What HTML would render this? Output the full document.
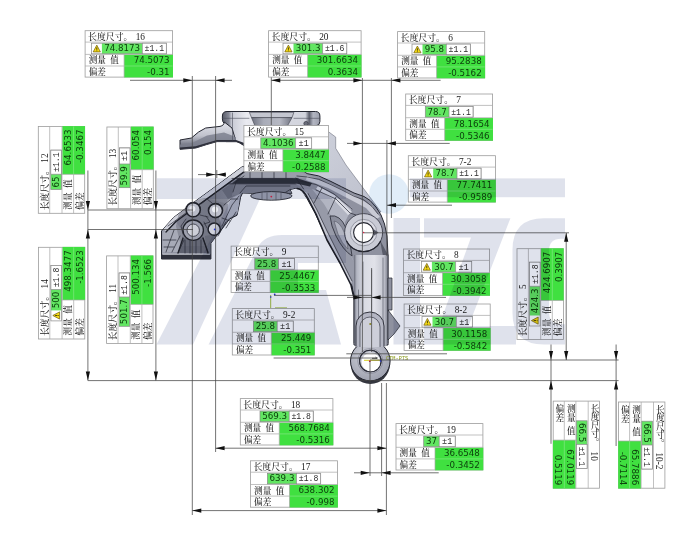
<!DOCTYPE html>
<html lang="zh-CN">
<head>
<meta charset="utf-8">
<title>长度尺寸 测量报告</title>
<style>
html,body{margin:0;padding:0;background:#fff}
body{width:700px;height:537px;overflow:hidden}
svg{display:block;will-change:transform;filter:blur(.3px)}
.lb{fill:#fff;stroke:#9c9c9c;stroke-width:.8}
.ln{fill:none;stroke:#a6a6a6;stroke-width:.7}
.lg{fill:none;stroke:#8fe88f;stroke-width:.6}
.gv{fill:#40e040}
.gn{fill:#62e662}
.ib{fill:none;stroke:#8a8a8a;stroke-width:.7}
.tb{fill:#fff;stroke:#8a8a8a;stroke-width:.7}
.wt{fill:#f7dc12;stroke:#6b5a10;stroke-width:.7;stroke-linejoin:round}
.we{fill:none;stroke:#3a3208;stroke-width:.9}
.cj{font-family:"Liberation Serif","Noto Serif CJK SC",serif;font-size:8.6px;font-weight:500;fill:#202020}
.vt{writing-mode:vertical-rl}
.ct{font-size:8.9px}
.tn{font-family:"Liberation Serif",serif;font-size:9.3px;font-weight:400}
.ng{font-family:"DejaVu Sans","Liberation Sans",sans-serif;font-size:8.7px;fill:#0d420d}
.tl{font-family:"Liberation Mono","DejaVu Sans Mono",monospace;font-size:9.6px;fill:#2a2a2a}
.dl{fill:none;stroke:#444;stroke-width:.75}
.ar{fill:#111;stroke:none}

.po{stroke:#23252f;stroke-width:1;stroke-linejoin:round}
.pl{fill:none;stroke:#262833;stroke-width:.7;stroke-linecap:round;stroke-linejoin:round}
.pm{fill:none;stroke:#4a4d5b;stroke-width:.6;stroke-linecap:round;stroke-linejoin:round}
.pk{fill:none;stroke:#1d1f28;stroke-width:1.3;stroke-linecap:round;stroke-linejoin:round}
.ph{fill:none;stroke:#eef0f5;stroke-width:1;stroke-linecap:round}

.wm{fill:#bfc5d9;fill-opacity:.5}
.wd{fill:#c3dbf1;fill-opacity:.5}
</style>
</head>
<body>
<svg width="700" height="537" viewBox="0 0 700 537">
<defs>
<filter id="b1" x="-5%" y="-5%" width="110%" height="110%"><feGaussianBlur stdDeviation=".7"/></filter>
<filter id="b0" x="-5%" y="-5%" width="110%" height="110%"><feGaussianBlur stdDeviation=".35"/></filter>
<linearGradient id="gWeb" x1="0" y1="0" x2="1" y2="1"><stop offset="0" stop-color="#d0d3dd"/><stop offset="1" stop-color="#bcbfcc"/></linearGradient>
<linearGradient id="gFl" gradientUnits="userSpaceOnUse" x1="222" y1="0" x2="320" y2="0"><stop offset="0" stop-color="#565966"/><stop offset=".07" stop-color="#878a97"/><stop offset=".1" stop-color="#c9cbd5"/><stop offset=".25" stop-color="#e9eaf0"/><stop offset=".5" stop-color="#d8d9e1"/><stop offset=".85" stop-color="#d2d4dd"/><stop offset=".89" stop-color="#5d606d"/><stop offset=".93" stop-color="#b3b6c2"/><stop offset="1" stop-color="#9b9eab"/></linearGradient>
<linearGradient id="gArm" x1="0" y1="0" x2="0" y2="1"><stop offset="0" stop-color="#e3e4eb"/><stop offset=".5" stop-color="#c1c3cd"/><stop offset=".75" stop-color="#8b8e9b"/><stop offset="1" stop-color="#4d505d"/></linearGradient>
<linearGradient id="gCone" x1="0" y1="0" x2="1" y2="0"><stop offset="0" stop-color="#6f7280"/><stop offset=".3" stop-color="#a9acb8"/><stop offset=".7" stop-color="#b6b8c3"/><stop offset="1" stop-color="#747784"/></linearGradient>
<linearGradient id="gLeg" gradientUnits="userSpaceOnUse" x1="354" y1="0" x2="388" y2="0"><stop offset="0" stop-color="#6b6e7b"/><stop offset=".08" stop-color="#b3b6c2"/><stop offset=".3" stop-color="#d9dbe3"/><stop offset=".6" stop-color="#e1e2e9"/><stop offset=".88" stop-color="#c3c5cf"/><stop offset="1" stop-color="#7a7d8a"/></linearGradient>
<radialGradient id="gRing" cx=".42" cy=".35" r=".7"><stop offset="0" stop-color="#d0d2db"/><stop offset="1" stop-color="#9b9eac"/></radialGradient>
<linearGradient id="gBr" gradientUnits="userSpaceOnUse" x1="161" y1="0" x2="243" y2="0"><stop offset="0" stop-color="#9c9fad"/><stop offset=".3" stop-color="#868998"/><stop offset=".6" stop-color="#7a7d8b"/><stop offset="1" stop-color="#8f92a0"/></linearGradient>
<clipPath id="cA"><path d="M161.5 259V231L163.4 228.8L173.6 217.5L192.2 203.5L216.5 185.8L242.5 166.5H296.9L307.1 173.6L318.6 175.9L330 181L341.4 186.7L354 193L364 196.5L370 200.4L376 207L381 215L384.5 224L387 236L388 255V345H354V296L352 286L340.5 264L328 241L321 226L315 213L307 198.5L301.5 190L296.9 187.9L290 189.6L292 193.3H252.4L242.5 193Q240 197 239.7 202.2L237 215.3L229.5 219L223.9 226.5L216.5 235.8L210.9 243.2V259Z"/></clipPath>
</defs>
<g id="part">

<path d="M300 126H322L328.3 131.6L335.7 137.1V148.3L346 165L381 212L366 215L300 176Z" fill="url(#gWeb)" stroke="#6f7280" stroke-width=".6"/>
<!-- flange + arm -->
<path class="po" fill="url(#gFl)" d="M222.4 116Q222.4 111.5 227 111.5H315.5Q319.9 111.5 319.9 116V121.5Q319.9 125.6 316 125.8L300 126V146H244.3Q240 141.6 236 141.6H226L224.3 123.6Q222.4 122 222.4 119Z"/>
<path class="po" fill="url(#gArm)" d="M180 140L191.4 138Q198.6 131 205.7 128L220 126.4Q224.3 125.4 224.3 122L232 128L236 141.6H217Q207 144.3 195.7 148L180 149.3Z"/>
<path d="M180 144.5L192 143Q200 139 207 135.5L224 132.5L236 137V141.6H217Q207 144.3 195.7 148L180 149.3Z" fill="#7e818f" opacity=".85"/>
<path d="M180 147.6L195.7 146.3Q207 142.8 217 140H236L244.3 143V146L236 141.6H217Q207 144.3 195.7 148L180 149.3Z" fill="#2d2f3a"/>
<path d="M249.4 112.3H293.9L292 117.6H251.5Z" fill="#c4c6d0" stroke="#3a3c48" stroke-width=".6"/>
<path d="M251.5 117.6H292L287.4 126H255Z" fill="url(#gCone)" stroke="#3a3c48" stroke-width=".6"/>
<path class="pm" d="M222.6 118.3H249M294 118.3H319.8M300 126V145M232.5 113V140"/>
<circle cx="306" cy="123.6" r="2.2" fill="#6a6d7a" stroke="#2b2d39" stroke-width=".6"/>
<!-- arch body silhouette -->
<path class="po" fill="url(#gBr)" d="M161.5 259V231L163.4 228.8L173.6 217.5L192.2 203.5L216.5 185.8L242.5 166.5H296.9L307.1 173.6L318.6 175.9L330 181L341.4 186.7L354 193L364 196.5L370 200.4L376 207L381 215L384.5 224L387 236L388 255V345H354V296L352 286L340.5 264L328 241L321 226L315 213L307 198.5L301.5 190L296.9 187.9L290 189.6L292 193.3H252.4L242.5 193Q240 197 239.7 202.2L237 215.3L229.5 219L223.9 226.5L216.5 235.8L210.9 243.2V259Z"/>
<g clip-path="url(#cA)"><g filter="url(#b0)">
<!-- bracket tones -->
<path d="M163.4 228.8L173.6 217.5L192.2 203.5L216.5 185.8L242.5 166.5L246 170L219 189.5L195 207L176 221L166 232Z" fill="#cfd1da"/>
<path d="M163 233L176 222L183 232L180 252H163Z" fill="#a7aab7"/>
<path d="M228 200L240 194L238 213L229 218L222 226L218 216Z" fill="#b4b7c4"/>
<path d="M222 190L244 174L290 172L296 186L290 189.6L252 192L240 193L228 199Z" fill="#6d707e"/>
<path d="M183 238L203 238L208 253H178Z" fill="#5f6270"/>
<path d="M181 203L205 198L228 204L226 236L206 246H181L176 226Z" fill="#6b6e7c" opacity=".5"/>
<path d="M205 236L226 232L222 246L211 254H206Z" fill="#5d606d" opacity=".55"/>
<!-- top band -->
<path d="M243 172H300L330 183L326 186L298 178H240Z" fill="#9b9eab"/>
<path d="M238 178.5H298L312 183L310 186.5L296 183.5H232Z" fill="#2f313d"/>
<path d="M234 184H296L304 189L296 187.9L290 189.6L292 193.3H252.4L242.5 193L232 196Z" fill="#7f8290"/>
<!-- right arm tones -->
<path d="M303.7 189L310.6 198.1L318.6 214.1L330 240L343 262L353 284L354 294V262L345 240L338 222L326 204L315 190Z" fill="#979aa8"/>
<path d="M312 189L330 195L352 208L345 222L344 240L352 258L354 262L345 240L336 224L324 204Z" fill="#b2b5c2"/>
<path d="M307 176L330 183.5L354 195.5L372 206L380 217L376 219L366 208L350 199.5L328 188L306 180Z" fill="#c9cbd5"/>
<path d="M318 186L336 196L352 212L348 215L333 199L316 189Z" fill="#d9dbe3"/>
<path d="M380 240L388 255V300H384V262Z" fill="#5a5d6a"/>
</g></g>
<!-- leaf pocket -->
<path d="M330 216Q340 214 346 228Q351 244 352 256Q343 250 336 236Q331 226 330 216Z" fill="#8b8e9c" stroke="#262833" stroke-width=".8"/>
<path d="M334 221Q340 222 344 232Q347 242 348 249Q342 244 338 234Z" fill="#b1b4c1" stroke="#4a4d5b" stroke-width=".5"/>
<!-- arm lines -->
<path class="pl" d="M296.9 176L307.1 177L318.6 179.3L330 184.2L341.4 189.7L354 196.2L364 200L372 206.5L378 214M300 181L316 184.5L334 194L352 209M316 190L336 199L350 213L356 215M322 188L314 203M336 197L328 214M303.7 189L296 178M290 189.6L284 193.3"/>
<path d="M299 188.6L308 198.5L316 214L327 240L340 263L351 285L352 281L340 257L327 231L317 210L308 193.5Z" fill="#c3c5d0"/>
<path class="pl" style="stroke-width:1.6;stroke:#1d1f28" d="M297 188.5Q303 189 308 198.5L316 214L327 240L340 263L351 285L353.5 296"/>
<path class="pl" d="M308 193.5L317 210L327 231L340 257L352 281"/>
<!-- top band lines -->
<path class="pl" d="M232 178.4H298M228 183.8H296M250 172V178M262 172V178M274 172V178M286 172V178M240 193L246 186H290"/>
<!-- bottom ring -->
<circle cx="370.3" cy="364.3" r="19.6" fill="#34363f"/>
<circle cx="370.3" cy="361" r="19.8" fill="url(#gRing)" stroke="#23252f" stroke-width="1"/>
<circle cx="370.3" cy="361" r="12.6" fill="none" stroke="#7d808e" stroke-width=".6"/>
<circle cx="370.3" cy="361" r="10.7" fill="#fff" stroke="#2b2d39" stroke-width="1.1"/>
<!-- leg -->
<path d="M354 255H388V343L385.5 346.5H355.5L354 343Z" fill="url(#gLeg)"/>
<path class="pl" d="M354 294V343M388 255V343"/>
<path class="pm" d="M363 262V340M371.6 270V322M383 258V340M358.5 290V340"/>
<path d="M388 278H392V310H388ZM388 310L400 326L394 334L388 340Z" fill="#8f92a0" stroke="#23252f" stroke-width=".7"/>
<path d="M356 346.5V326A14 14 0 0 1 384 326V346.5" fill="#b4b6c3" stroke="#23252f" stroke-width=".9"/>
<path d="M360 347V327A10 10 0 0 1 380 327V347" fill="#cdcfd9" stroke="#3a3c48" stroke-width=".7"/>
<circle cx="370.3" cy="324" r="1.1" fill="#8a8a2a"/>
<!-- upper ring boss -->
<circle cx="363.6" cy="232.6" r="19" fill="#c9cbd5" stroke="#3a3c48" stroke-width=".9"/>
<path d="M346.5 241A19 19 0 0 0 380.7 241" fill="none" stroke="#23252f" stroke-width="1.3"/>
<circle cx="363.6" cy="232.6" r="13.2" fill="#dcdde5" stroke="#6a6d7a" stroke-width=".6"/>
<circle cx="363.6" cy="232.6" r="10" fill="#fff" stroke="#23252f" stroke-width="1.1"/>
<path d="M374 229.5L378.5 232.6L374 235.7Z" fill="#555866"/>
<!-- bracket -->
<path d="M161.5 254.4H210.9V259H161.5Z" fill="#30323d"/>
<path class="ph" d="M163 254.2H209.5" opacity=".7"/>
<path class="pl" d="M166 252L174 230M172 252L180 236M178 253L184 240M208 252L203 238M168 226L190 210M246 171L219 190.5L202 203M206 216L210 222L204 224M222 226L232 205L239 196M226 228L236 212M218 236L226 222"/>
<path class="pk" d="M183 238L178 253M203 238L208 253M166 232L176 221.5L195 207.5L219 190L245 171"/>
<path class="pl" d="M185 240V253M190 241V253M196 241V253M201 240V253M200 215L208 217M201 204L207 199L212 203M186 219L181 226L183 234M204 222L207 228M222 218L230 221M224 205L231 199L238 199M244 176L236 182L233 192M163 240H176M164 247H174"/>
<circle cx="193.2" cy="230.2" r="10.2" fill="#9ea1af" stroke="#20222b" stroke-width="1.3"/>
<circle cx="193.2" cy="230.2" r="6.2" fill="#cdcfd8" stroke="#3a3c48" stroke-width=".9"/>
<circle cx="193.2" cy="209.7" r="7.1" fill="#babdc9" stroke="#20222b" stroke-width="1.6"/>
<circle cx="192.4" cy="208.8" r="3" fill="#e6e7ee" filter="url(#b1)"/>
<circle cx="215.5" cy="210.6" r="7" fill="#bfc1cc" stroke="#20222b" stroke-width="1.6"/>
<circle cx="215" cy="209.6" r="3" fill="#eceef3" filter="url(#b1)"/>
<circle cx="214.2" cy="229.2" r="6.1" fill="#cfd1db" stroke="#20222b" stroke-width="1.5"/>
<circle cx="214.7" cy="229.4" r=".9" fill="#2233dd"/>
<ellipse cx="271.3" cy="195.9" rx="20.6" ry="4.3" fill="#a3a6b3" stroke="#23252f" stroke-width=".9"/>
<path class="pm" d="M262 193V199.5M267 193V200M276 193V200M281 193V199.5"/>
<circle cx="271.3" cy="196.6" r=".9" fill="#dd2244"/>
<circle cx="363.6" cy="232.6" r=".8" fill="#dd2244"/>
<circle cx="370.3" cy="361" r="10.7" fill="#c6c8d2" stroke="#2b2d39" stroke-width="1.1"/>
<circle cx="370.9" cy="362" r="9.3" fill="#fff"/>
<path d="M364 360.3H380" stroke="#d8d020" stroke-width="1" fill="none"/>
<path d="M372 358.3H377L375.5 357.2" stroke="#222" stroke-width=".8" fill="none"/>
<circle cx="369.8" cy="361.2" r=".9" fill="#cc2244"/><circle cx="380.6" cy="360.8" r=".9" fill="#2233cc"/>
<text x="386" y="360.2" style="font-family:'Liberation Mono',monospace;font-size:5.3px;fill:#8a9a1a">CTM-PTS</text>
<path d="M270.7 295V308M275 307.9H287" stroke="#9aba30" stroke-width=".9" fill="none"/>
<circle cx="274.7" cy="294.3" r=".9" fill="#2233cc"/><circle cx="270.7" cy="297" r=".8" fill="#2233cc"/>

</g>
<g id="dims">
<path class="dl" d="M192.3 76V515M215.6 76V452M271.3 77V125M362.4 78V352M391.4 78V218M386.9 140V256M371.6 268V352M370.0 361V476M381.6 383V476M386.4 383V515M87.9 170.5V380.5M155.9 170.5V380.5M566.2 233V360M551.0 344.5V443.8M616.1 344.5V446M216.8 170V178M130 80.3H232M271.3 80.3H440.6M347 143.4H449.7M387 205.2H452M198 174.6H226M87.9 210.0H193M87.9 229.5H193M364 232.8H569M370 360.0H618.6M87.9 380.6H618.6M274 295.4H372M347 297.4H446M346.3 353.8H447M273.6 358.0H378M215.6 448.2H386.4M354 472.8H438.7M192.3 510.6H386.4"/>
<path class="ar" d="M192.3 80.3L183.3 78.2V82.39999999999999ZM215.6 80.3L224.6 78.2V82.39999999999999ZM271.3 80.3L280.3 78.2V82.39999999999999ZM362.4 80.3L353.4 78.2V82.39999999999999ZM391.4 80.3L400.4 78.2V82.39999999999999ZM362.4 143.4L353.4 141.3V145.5ZM386.9 143.4L395.9 141.3V145.5ZM387.0 205.2L396.0 203.1V207.29999999999998ZM215.2 174.6L206.2 172.5V176.7ZM216.8 174.6L225.8 172.5V176.7ZM87.9 210.0L85.80000000000001 201.0H90.0ZM87.9 229.5L85.80000000000001 238.5H90.0ZM87.9 380.6L85.80000000000001 371.6H90.0ZM155.9 210.0L153.8 201.0H158.0ZM155.9 229.5L153.8 238.5H158.0ZM155.9 380.6L153.8 371.6H158.0ZM566.2 232.8L564.1 241.8H568.3000000000001ZM566.2 360.0L564.1 351.0H568.3000000000001ZM551.0 360.0L548.9 351.0H553.1ZM616.1 360.0L614.0 351.0H618.2ZM551.0 380.6L548.9 389.6H553.1ZM616.1 380.6L614.0 389.6H618.2ZM362.4 297.4L353.4 295.29999999999995V299.5ZM371.6 297.4L380.6 295.29999999999995V299.5ZM215.6 448.2L224.6 446.09999999999997V450.3ZM386.4 448.2L377.4 446.09999999999997V450.3ZM369.7 472.8L360.7 470.7V474.90000000000003ZM381.6 472.8L390.6 470.7V474.90000000000003ZM192.3 510.6L201.3 508.5V512.7ZM386.4 510.6L377.4 508.5V512.7Z"/>
</g>
<g id="labels">
<g transform="translate(85.1 30.7) rotate(0)">
<rect class="lb" x="0" y="0" width="87.5" height="46.4"/>
<rect class="gv" x="39.0" y="24.0" width="48.9" height="22.7"/>
<path class="ln" d="M0 11.4H87.5M0 23.7H87.5M0 35.3H39.0M39.0 23.7V46.4"/>
<path class="lg" d="M39.0 35.3H87.5"/>
<rect class="gn" x="16.8" y="12.5" width="40.4" height="10.6"/>
<rect class="ib" x="6.3" y="12.5" width="74.9" height="10.6"/>
<rect class="tb" x="57.2" y="12.5" width="24.0" height="10.6"/>
<path class="wt" d="M11.7 14.4L15.3 21.2H8.1Z"/>
<path class="we" d="M11.7 16.7V19.1M11.7 19.8V20.5"/>
<text class="cj ct" x="3" y="9.3">长度尺寸。<tspan class="tn" x="50.6">16</tspan></text>
<text class="cj" x="3.6" y="32.8">测量<tspan x="25.2">值</tspan></text>
<text class="cj" x="3.6" y="44.4">偏差</text>
<text class="ng" x="37.0" y="20.6" text-anchor="middle">74.8173</text>
<text class="tl" x="59.4" y="20.6" textLength="19.6" lengthAdjust="spacingAndGlyphs">±1.1</text>
<text class="ng" x="84.5" y="32.6" text-anchor="end">74.5073</text>
<text class="ng" x="84.5" y="44.6" text-anchor="end">-0.31</text>
</g>
<g transform="translate(268.6 30.7) rotate(0)">
<rect class="lb" x="0" y="0" width="92.5" height="46.4"/>
<rect class="gv" x="39.0" y="24.0" width="53.9" height="22.7"/>
<path class="ln" d="M0 11.4H92.5M0 23.7H92.5M0 35.3H39.0M39.0 23.7V46.4"/>
<path class="lg" d="M39.0 35.3H92.5"/>
<rect class="gn" x="24.9" y="12.5" width="29.3" height="10.6"/>
<rect class="ib" x="14.4" y="12.5" width="63.8" height="10.6"/>
<rect class="tb" x="54.1" y="12.5" width="24.0" height="10.6"/>
<path class="wt" d="M19.8 14.4L23.4 21.2H16.2Z"/>
<path class="we" d="M19.8 16.7V19.1M19.8 19.8V20.5"/>
<text class="cj ct" x="3" y="9.3">长度尺寸。<tspan class="tn" x="50.6">20</tspan></text>
<text class="cj" x="3.6" y="32.8">测量<tspan x="25.2">值</tspan></text>
<text class="cj" x="3.6" y="44.4">偏差</text>
<text class="ng" x="39.5" y="20.6" text-anchor="middle">301.3</text>
<text class="tl" x="56.3" y="20.6" textLength="19.6" lengthAdjust="spacingAndGlyphs">±1.6</text>
<text class="ng" x="89.5" y="32.6" text-anchor="end">301.6634</text>
<text class="ng" x="89.5" y="44.6" text-anchor="end">0.3634</text>
</g>
<g transform="translate(397.6 31.6) rotate(0)">
<rect class="lb" x="0" y="0" width="87.1" height="46.4"/>
<rect class="gv" x="39.0" y="24.0" width="48.5" height="22.7"/>
<path class="ln" d="M0 11.4H87.1M0 23.7H87.1M0 35.3H39.0M39.0 23.7V46.4"/>
<path class="lg" d="M39.0 35.3H87.1"/>
<rect class="gn" x="24.9" y="12.5" width="23.8" height="10.6"/>
<rect class="ib" x="14.4" y="12.5" width="58.3" height="10.6"/>
<rect class="tb" x="48.7" y="12.5" width="24.0" height="10.6"/>
<path class="wt" d="M19.8 14.4L23.4 21.2H16.2Z"/>
<path class="we" d="M19.8 16.7V19.1M19.8 19.8V20.5"/>
<text class="cj ct" x="3" y="9.3">长度尺寸。<tspan class="tn" x="50.6">6</tspan></text>
<text class="cj" x="3.6" y="32.8">测量<tspan x="25.2">值</tspan></text>
<text class="cj" x="3.6" y="44.4">偏差</text>
<text class="ng" x="36.8" y="20.6" text-anchor="middle">95.8</text>
<text class="tl" x="50.9" y="20.6" textLength="19.6" lengthAdjust="spacingAndGlyphs">±1.1</text>
<text class="ng" x="84.1" y="32.6" text-anchor="end">95.2838</text>
<text class="ng" x="84.1" y="44.6" text-anchor="end">-0.5162</text>
</g>
<g transform="translate(405.7 94.0) rotate(0)">
<rect class="lb" x="0" y="0" width="86.9" height="46.4"/>
<rect class="gv" x="39.0" y="24.0" width="48.3" height="22.7"/>
<path class="ln" d="M0 11.4H86.9M0 23.7H86.9M0 35.3H39.0M39.0 23.7V46.4"/>
<path class="lg" d="M39.0 35.3H86.9"/>
<rect class="gn" x="19.6" y="12.5" width="23.8" height="10.6"/>
<rect class="ib" x="19.6" y="12.5" width="47.8" height="10.6"/>
<rect class="tb" x="43.3" y="12.5" width="24.0" height="10.6"/>
<text class="cj ct" x="3" y="9.3">长度尺寸。<tspan class="tn" x="50.6">7</tspan></text>
<text class="cj" x="3.6" y="32.8">测量<tspan x="25.2">值</tspan></text>
<text class="cj" x="3.6" y="44.4">偏差</text>
<text class="ng" x="31.5" y="20.6" text-anchor="middle">78.7</text>
<text class="tl" x="45.5" y="20.6" textLength="19.6" lengthAdjust="spacingAndGlyphs">±1.1</text>
<text class="ng" x="83.9" y="32.6" text-anchor="end">78.1654</text>
<text class="ng" x="83.9" y="44.6" text-anchor="end">-0.5346</text>
</g>
<g transform="translate(408.3 155.7) rotate(0)">
<rect class="lb" x="0" y="0" width="87.1" height="46.4"/>
<rect class="gv" x="39.0" y="24.0" width="48.5" height="22.7"/>
<path class="ln" d="M0 11.4H87.1M0 23.7H87.1M0 35.3H39.0M39.0 23.7V46.4"/>
<path class="lg" d="M39.0 35.3H87.1"/>
<rect class="gn" x="24.9" y="12.5" width="23.8" height="10.6"/>
<rect class="ib" x="14.4" y="12.5" width="58.3" height="10.6"/>
<rect class="tb" x="48.7" y="12.5" width="24.0" height="10.6"/>
<path class="wt" d="M19.8 14.4L23.4 21.2H16.2Z"/>
<path class="we" d="M19.8 16.7V19.1M19.8 19.8V20.5"/>
<text class="cj ct" x="3" y="9.3">长度尺寸。<tspan class="tn" x="50.6">7-2</tspan></text>
<text class="cj" x="3.6" y="32.8">测量<tspan x="25.2">值</tspan></text>
<text class="cj" x="3.6" y="44.4">偏差</text>
<text class="ng" x="36.8" y="20.6" text-anchor="middle">78.7</text>
<text class="tl" x="50.9" y="20.6" textLength="19.6" lengthAdjust="spacingAndGlyphs">±1.1</text>
<text class="ng" x="84.1" y="32.6" text-anchor="end">77.7411</text>
<text class="ng" x="84.1" y="44.6" text-anchor="end">-0.9589</text>
</g>
<g transform="translate(243.9 125.4) rotate(0)">
<rect class="lb" x="0" y="0" width="84.7" height="46.4"/>
<rect class="gv" x="39.0" y="24.0" width="46.1" height="22.7"/>
<path class="ln" d="M0 11.4H84.7M0 23.7H84.7M0 35.3H39.0M39.0 23.7V46.4"/>
<path class="lg" d="M39.0 35.3H84.7"/>
<rect class="gn" x="16.9" y="12.5" width="34.8" height="10.6"/>
<rect class="ib" x="16.9" y="12.5" width="50.8" height="10.6"/>
<rect class="tb" x="51.8" y="12.5" width="16.0" height="10.6"/>
<text class="cj ct" x="3" y="9.3">长度尺寸。<tspan class="tn" x="50.6">15</tspan></text>
<text class="cj" x="3.6" y="32.8">测量<tspan x="25.2">值</tspan></text>
<text class="cj" x="3.6" y="44.4">偏差</text>
<text class="ng" x="34.4" y="20.6" text-anchor="middle">4.1036</text>
<text class="tl" x="54.7" y="20.6" textLength="10.2" lengthAdjust="spacingAndGlyphs">±1</text>
<text class="ng" x="81.7" y="32.6" text-anchor="end">3.8447</text>
<text class="ng" x="81.7" y="44.6" text-anchor="end">-0.2588</text>
</g>
<g transform="translate(231.1 246.1) rotate(0)">
<rect class="lb" x="0" y="0" width="87.2" height="46.4"/>
<rect class="gv" x="39.0" y="24.0" width="48.6" height="22.7"/>
<path class="ln" d="M0 11.4H87.2M0 23.7H87.2M0 35.3H39.0M39.0 23.7V46.4"/>
<path class="lg" d="M39.0 35.3H87.2"/>
<rect class="gn" x="23.7" y="12.5" width="23.8" height="10.6"/>
<rect class="ib" x="23.7" y="12.5" width="39.8" height="10.6"/>
<rect class="tb" x="47.5" y="12.5" width="16.0" height="10.6"/>
<text class="cj ct" x="3" y="9.3">长度尺寸。<tspan class="tn" x="50.6">9</tspan></text>
<text class="cj" x="3.6" y="32.8">测量<tspan x="25.2">值</tspan></text>
<text class="cj" x="3.6" y="44.4">偏差</text>
<text class="ng" x="35.6" y="20.6" text-anchor="middle">25.8</text>
<text class="tl" x="50.4" y="20.6" textLength="10.2" lengthAdjust="spacingAndGlyphs">±1</text>
<text class="ng" x="84.2" y="32.6" text-anchor="end">25.4467</text>
<text class="ng" x="84.2" y="44.6" text-anchor="end">-0.3533</text>
</g>
<g transform="translate(232.3 308.6) rotate(0)">
<rect class="lb" x="0" y="0" width="82.0" height="46.4"/>
<rect class="gv" x="39.0" y="24.0" width="43.4" height="22.7"/>
<path class="ln" d="M0 11.4H82.0M0 23.7H82.0M0 35.3H39.0M39.0 23.7V46.4"/>
<path class="lg" d="M39.0 35.3H82.0"/>
<rect class="gn" x="21.1" y="12.5" width="23.8" height="10.6"/>
<rect class="ib" x="21.1" y="12.5" width="39.8" height="10.6"/>
<rect class="tb" x="44.9" y="12.5" width="16.0" height="10.6"/>
<text class="cj ct" x="3" y="9.3">长度尺寸。<tspan class="tn" x="50.6">9-2</tspan></text>
<text class="cj" x="3.6" y="32.8">测量<tspan x="25.2">值</tspan></text>
<text class="cj" x="3.6" y="44.4">偏差</text>
<text class="ng" x="33.0" y="20.6" text-anchor="middle">25.8</text>
<text class="tl" x="47.8" y="20.6" textLength="10.2" lengthAdjust="spacingAndGlyphs">±1</text>
<text class="ng" x="79.0" y="32.6" text-anchor="end">25.449</text>
<text class="ng" x="79.0" y="44.6" text-anchor="end">-0.351</text>
</g>
<g transform="translate(403.5 249.0) rotate(0)">
<rect class="lb" x="0" y="0" width="86.1" height="46.4"/>
<rect class="gv" x="39.0" y="24.0" width="47.5" height="22.7"/>
<path class="ln" d="M0 11.4H86.1M0 23.7H86.1M0 35.3H39.0M39.0 23.7V46.4"/>
<path class="lg" d="M39.0 35.3H86.1"/>
<rect class="gn" x="28.4" y="12.5" width="23.8" height="10.6"/>
<rect class="ib" x="17.9" y="12.5" width="50.3" height="10.6"/>
<rect class="tb" x="52.2" y="12.5" width="16.0" height="10.6"/>
<path class="wt" d="M23.3 14.4L26.9 21.2H19.7Z"/>
<path class="we" d="M23.3 16.7V19.1M23.3 19.8V20.5"/>
<text class="cj ct" x="3" y="9.3">长度尺寸。<tspan class="tn" x="50.6">8</tspan></text>
<text class="cj" x="3.6" y="32.8">测量<tspan x="25.2">值</tspan></text>
<text class="cj" x="3.6" y="44.4">偏差</text>
<text class="ng" x="40.3" y="20.6" text-anchor="middle">30.7</text>
<text class="tl" x="55.1" y="20.6" textLength="10.2" lengthAdjust="spacingAndGlyphs">±1</text>
<text class="ng" x="83.1" y="32.6" text-anchor="end">30.3058</text>
<text class="ng" x="83.1" y="44.6" text-anchor="end">-0.3942</text>
</g>
<g transform="translate(404.1 304.0) rotate(0)">
<rect class="lb" x="0" y="0" width="86.1" height="46.4"/>
<rect class="gv" x="39.0" y="24.0" width="47.5" height="22.7"/>
<path class="ln" d="M0 11.4H86.1M0 23.7H86.1M0 35.3H39.0M39.0 23.7V46.4"/>
<path class="lg" d="M39.0 35.3H86.1"/>
<rect class="gn" x="28.4" y="12.5" width="23.8" height="10.6"/>
<rect class="ib" x="17.9" y="12.5" width="50.3" height="10.6"/>
<rect class="tb" x="52.2" y="12.5" width="16.0" height="10.6"/>
<path class="wt" d="M23.3 14.4L26.9 21.2H19.7Z"/>
<path class="we" d="M23.3 16.7V19.1M23.3 19.8V20.5"/>
<text class="cj ct" x="3" y="9.3">长度尺寸。<tspan class="tn" x="50.6">8-2</tspan></text>
<text class="cj" x="3.6" y="32.8">测量<tspan x="25.2">值</tspan></text>
<text class="cj" x="3.6" y="44.4">偏差</text>
<text class="ng" x="40.3" y="20.6" text-anchor="middle">30.7</text>
<text class="tl" x="55.1" y="20.6" textLength="10.2" lengthAdjust="spacingAndGlyphs">±1</text>
<text class="ng" x="83.1" y="32.6" text-anchor="end">30.1158</text>
<text class="ng" x="83.1" y="44.6" text-anchor="end">-0.5842</text>
</g>
<g transform="translate(240.3 398.6) rotate(0)">
<rect class="lb" x="0" y="0" width="92.6" height="46.4"/>
<rect class="gv" x="39.0" y="24.0" width="54.0" height="22.7"/>
<path class="ln" d="M0 11.4H92.6M0 23.7H92.6M0 35.3H39.0M39.0 23.7V46.4"/>
<path class="lg" d="M39.0 35.3H92.6"/>
<rect class="gn" x="19.7" y="12.5" width="29.3" height="10.6"/>
<rect class="ib" x="19.7" y="12.5" width="53.3" height="10.6"/>
<rect class="tb" x="48.9" y="12.5" width="24.0" height="10.6"/>
<text class="cj ct" x="3" y="9.3">长度尺寸。<tspan class="tn" x="50.6">18</tspan></text>
<text class="cj" x="3.6" y="32.8">测量<tspan x="25.2">值</tspan></text>
<text class="cj" x="3.6" y="44.4">偏差</text>
<text class="ng" x="34.3" y="20.6" text-anchor="middle">569.3</text>
<text class="tl" x="51.1" y="20.6" textLength="19.6" lengthAdjust="spacingAndGlyphs">±1.8</text>
<text class="ng" x="89.6" y="32.6" text-anchor="end">568.7684</text>
<text class="ng" x="89.6" y="44.6" text-anchor="end">-0.5316</text>
</g>
<g transform="translate(250.5 460.8) rotate(0)">
<rect class="lb" x="0" y="0" width="87.0" height="46.4"/>
<rect class="gv" x="39.0" y="24.0" width="48.4" height="22.7"/>
<path class="ln" d="M0 11.4H87.0M0 23.7H87.0M0 35.3H39.0M39.0 23.7V46.4"/>
<path class="lg" d="M39.0 35.3H87.0"/>
<rect class="gn" x="16.9" y="12.5" width="29.3" height="10.6"/>
<rect class="ib" x="16.9" y="12.5" width="53.3" height="10.6"/>
<rect class="tb" x="46.1" y="12.5" width="24.0" height="10.6"/>
<text class="cj ct" x="3" y="9.3">长度尺寸。<tspan class="tn" x="50.6">17</tspan></text>
<text class="cj" x="3.6" y="32.8">测量<tspan x="25.2">值</tspan></text>
<text class="cj" x="3.6" y="44.4">偏差</text>
<text class="ng" x="31.5" y="20.6" text-anchor="middle">639.3</text>
<text class="tl" x="48.3" y="20.6" textLength="19.6" lengthAdjust="spacingAndGlyphs">±1.8</text>
<text class="ng" x="84.0" y="32.6" text-anchor="end">638.302</text>
<text class="ng" x="84.0" y="44.6" text-anchor="end">-0.998</text>
</g>
<g transform="translate(396.0 423.6) rotate(0)">
<rect class="lb" x="0" y="0" width="86.9" height="46.4"/>
<rect class="gv" x="39.0" y="24.0" width="48.3" height="22.7"/>
<path class="ln" d="M0 11.4H86.9M0 23.7H86.9M0 35.3H39.0M39.0 23.7V46.4"/>
<path class="lg" d="M39.0 35.3H86.9"/>
<rect class="gn" x="27.7" y="12.5" width="15.5" height="10.6"/>
<rect class="ib" x="27.7" y="12.5" width="31.5" height="10.6"/>
<rect class="tb" x="43.2" y="12.5" width="16.0" height="10.6"/>
<text class="cj ct" x="3" y="9.3">长度尺寸。<tspan class="tn" x="50.6">19</tspan></text>
<text class="cj" x="3.6" y="32.8">测量<tspan x="25.2">值</tspan></text>
<text class="cj" x="3.6" y="44.4">偏差</text>
<text class="ng" x="35.5" y="20.6" text-anchor="middle">37</text>
<text class="tl" x="46.1" y="20.6" textLength="10.2" lengthAdjust="spacingAndGlyphs">±1</text>
<text class="ng" x="83.9" y="32.6" text-anchor="end">36.6548</text>
<text class="ng" x="83.9" y="44.6" text-anchor="end">-0.3452</text>
</g>
<g transform="translate(38.3 213.3) rotate(-90)">
<rect class="lb" x="0" y="0" width="86.8" height="46.4"/>
<rect class="gv" x="39.0" y="24.0" width="48.2" height="22.7"/>
<path class="ln" d="M0 11.4H86.8M0 23.7H86.8M0 35.3H39.0M39.0 23.7V46.4"/>
<path class="lg" d="M39.0 35.3H86.8"/>
<rect class="gn" x="23.7" y="12.5" width="15.5" height="10.6"/>
<rect class="ib" x="23.7" y="12.5" width="39.5" height="10.6"/>
<rect class="tb" x="39.1" y="12.5" width="24.0" height="10.6"/>
<text class="cj ct" x="3" y="9.3">长度尺寸。<tspan class="tn" x="50.6">12</tspan></text>
<text class="cj" x="3.6" y="32.8">测量<tspan x="25.2">值</tspan></text>
<text class="cj" x="3.6" y="44.4">偏差</text>
<text class="ng" x="31.4" y="20.6" text-anchor="middle">65</text>
<text class="tl" x="41.3" y="20.6" textLength="19.6" lengthAdjust="spacingAndGlyphs">±1.1</text>
<text class="ng" x="83.8" y="32.6" text-anchor="end">64.6533</text>
<text class="ng" x="83.8" y="44.6" text-anchor="end">-0.3467</text>
</g>
<g transform="translate(106.9 208.7) rotate(-90)">
<rect class="lb" x="0" y="0" width="81.7" height="46.4"/>
<rect class="gv" x="39.0" y="24.0" width="43.1" height="22.7"/>
<path class="ln" d="M0 11.4H81.7M0 23.7H81.7M0 35.3H39.0M39.0 23.7V46.4"/>
<path class="lg" d="M39.0 35.3H81.7"/>
<rect class="gn" x="21.0" y="12.5" width="23.8" height="10.6"/>
<rect class="ib" x="21.0" y="12.5" width="39.8" height="10.6"/>
<rect class="tb" x="44.7" y="12.5" width="16.0" height="10.6"/>
<text class="cj ct" x="3" y="9.3">长度尺寸。<tspan class="tn" x="50.6">13</tspan></text>
<text class="cj" x="3.6" y="32.8">测量<tspan x="25.2">值</tspan></text>
<text class="cj" x="3.6" y="44.4">偏差</text>
<text class="ng" x="32.8" y="20.6" text-anchor="middle">59.9</text>
<text class="tl" x="47.6" y="20.6" textLength="10.2" lengthAdjust="spacingAndGlyphs">±1</text>
<text class="ng" x="78.7" y="32.6" text-anchor="end">60.054</text>
<text class="ng" x="78.7" y="44.6" text-anchor="end">0.154</text>
</g>
<g transform="translate(38.4 339.0) rotate(-90)">
<rect class="lb" x="0" y="0" width="91.7" height="46.4"/>
<rect class="gv" x="39.0" y="24.0" width="53.1" height="22.7"/>
<path class="ln" d="M0 11.4H91.7M0 23.7H91.7M0 35.3H39.0M39.0 23.7V46.4"/>
<path class="lg" d="M39.0 35.3H91.7"/>
<rect class="gn" x="28.6" y="12.5" width="21.0" height="10.6"/>
<rect class="ib" x="18.1" y="12.5" width="55.5" height="10.6"/>
<rect class="tb" x="49.6" y="12.5" width="24.0" height="10.6"/>
<path class="wt" d="M23.5 14.4L27.1 21.2H19.9Z"/>
<path class="we" d="M23.5 16.7V19.1M23.5 19.8V20.5"/>
<text class="cj ct" x="3" y="9.3">长度尺寸。<tspan class="tn" x="50.6">14</tspan></text>
<text class="cj" x="3.6" y="32.8">测量<tspan x="25.2">值</tspan></text>
<text class="cj" x="3.6" y="44.4">偏差</text>
<text class="ng" x="39.1" y="20.6" text-anchor="middle">500</text>
<text class="tl" x="51.8" y="20.6" textLength="19.6" lengthAdjust="spacingAndGlyphs">±1.8</text>
<text class="ng" x="88.7" y="32.6" text-anchor="end">498.3477</text>
<text class="ng" x="88.7" y="44.6" text-anchor="end">-1.6523</text>
</g>
<g transform="translate(106.6 343.4) rotate(-90)">
<rect class="lb" x="0" y="0" width="87.5" height="46.4"/>
<rect class="gv" x="39.0" y="24.0" width="48.9" height="22.7"/>
<path class="ln" d="M0 11.4H87.5M0 23.7H87.5M0 35.3H39.0M39.0 23.7V46.4"/>
<path class="lg" d="M39.0 35.3H87.5"/>
<rect class="gn" x="17.1" y="12.5" width="29.3" height="10.6"/>
<rect class="ib" x="17.1" y="12.5" width="53.3" height="10.6"/>
<rect class="tb" x="46.4" y="12.5" width="24.0" height="10.6"/>
<text class="cj ct" x="3" y="9.3">长度尺寸。<tspan class="tn" x="50.6">11</tspan></text>
<text class="cj" x="3.6" y="32.8">测量<tspan x="25.2">值</tspan></text>
<text class="cj" x="3.6" y="44.4">偏差</text>
<text class="ng" x="31.7" y="20.6" text-anchor="middle">501.7</text>
<text class="tl" x="48.6" y="20.6" textLength="19.6" lengthAdjust="spacingAndGlyphs">±1.8</text>
<text class="ng" x="84.5" y="32.6" text-anchor="end">500.134</text>
<text class="ng" x="84.5" y="44.6" text-anchor="end">-1.566</text>
</g>
<g transform="translate(517.0 339.5) rotate(-90)">
<rect class="lb" x="0" y="0" width="90.8" height="46.4"/>
<rect class="gv" x="39.0" y="24.0" width="52.2" height="22.7"/>
<path class="ln" d="M0 11.4H90.8M0 23.7H90.8M0 35.3H39.0M39.0 23.7V46.4"/>
<path class="lg" d="M39.0 35.3H90.8"/>
<rect class="gn" x="24.0" y="12.5" width="29.3" height="10.6"/>
<rect class="ib" x="13.5" y="12.5" width="63.8" height="10.6"/>
<rect class="tb" x="53.3" y="12.5" width="24.0" height="10.6"/>
<path class="wt" d="M18.9 14.4L22.5 21.2H15.3Z"/>
<path class="we" d="M18.9 16.7V19.1M18.9 19.8V20.5"/>
<text class="cj ct" x="3" y="9.3">长度尺寸。<tspan class="tn" x="50.6">5</tspan></text>
<text class="cj" x="3.6" y="32.8">测量<tspan x="25.2">值</tspan></text>
<text class="cj" x="3.6" y="44.4">偏差</text>
<text class="ng" x="38.7" y="20.6" text-anchor="middle">424.3</text>
<text class="tl" x="55.5" y="20.6" textLength="19.6" lengthAdjust="spacingAndGlyphs">±1.8</text>
<text class="ng" x="87.8" y="32.6" text-anchor="end">424.6907</text>
<text class="ng" x="87.8" y="44.6" text-anchor="end">0.3907</text>
</g>
<g transform="translate(599.6 401.1) rotate(90)">
<rect class="lb" x="0" y="0" width="87.1" height="46.4"/>
<rect class="gv" x="39.0" y="24.0" width="48.5" height="22.7"/>
<path class="ln" d="M0 11.4H87.1M0 23.7H87.1M0 35.3H39.0M39.0 23.7V46.4"/>
<path class="lg" d="M39.0 35.3H87.1"/>
<rect class="gn" x="19.7" y="12.5" width="23.8" height="10.6"/>
<rect class="ib" x="19.7" y="12.5" width="47.8" height="10.6"/>
<rect class="tb" x="43.4" y="12.5" width="24.0" height="10.6"/>
<text class="cj vt" transform="translate(3 5.5) rotate(-90)">长度尺寸。<tspan class="tn" y="47.4">10</tspan></text>
<text class="cj vt" transform="translate(3.6 29.3) rotate(-90)">测量<tspan y="21.6">值</tspan></text>
<text class="cj vt" transform="translate(3.6 40.7) rotate(-90)">偏差</text>
<text class="ng" x="31.5" y="20.6" text-anchor="middle">66.5</text>
<text class="tl" x="45.6" y="20.6" textLength="19.6" lengthAdjust="spacingAndGlyphs">±1.1</text>
<text class="ng" x="84.1" y="32.6" text-anchor="end">67.0119</text>
<text class="ng" x="84.1" y="44.6" text-anchor="end">0.5119</text>
</g>
<g transform="translate(664.9 402.0) rotate(90)">
<rect class="lb" x="0" y="0" width="86.2" height="46.4"/>
<rect class="gv" x="39.0" y="24.0" width="47.6" height="22.7"/>
<path class="ln" d="M0 11.4H86.2M0 23.7H86.2M0 35.3H39.0M39.0 23.7V46.4"/>
<path class="lg" d="M39.0 35.3H86.2"/>
<rect class="gn" x="19.2" y="12.5" width="23.8" height="10.6"/>
<rect class="ib" x="19.2" y="12.5" width="47.8" height="10.6"/>
<rect class="tb" x="43.0" y="12.5" width="24.0" height="10.6"/>
<text class="cj vt" transform="translate(3 5.5) rotate(-90)">长度尺寸。<tspan class="tn" y="47.4">10-2</tspan></text>
<text class="cj vt" transform="translate(3.6 29.3) rotate(-90)">测量<tspan y="21.6">值</tspan></text>
<text class="cj vt" transform="translate(3.6 40.7) rotate(-90)">偏差</text>
<text class="ng" x="31.1" y="20.6" text-anchor="middle">66.5</text>
<text class="tl" x="45.2" y="20.6" textLength="19.6" lengthAdjust="spacingAndGlyphs">±1.1</text>
<text class="ng" x="83.2" y="32.6" text-anchor="end">65.7886</text>
<text class="ng" x="83.2" y="44.6" text-anchor="end">-0.7114</text>
</g>
</g>
<g id="wm" style="mix-blend-mode:multiply">

<path class="wm" d="M157 178.3H346V199H259.9L193 344.5H156.5L231.4 199H157Z"/>
<path class="wm" d="M208.6 344.5L258 247Q264.5 235 282 235H346V263H298V290H326L341 344.5Z"/>
<circle class="wd" cx="389" cy="194" r="19.8"/>
<rect class="wm" x="393.5" y="218" width="26.5" height="126.5"/>
<rect class="wm" x="410" y="178.4" width="155" height="18.8"/>
<path class="wm" d="M424 218.3H510.4L468.5 326H516V344.5H424V326H439L471 237.4H424Z"/>
<path class="wm" d="M512.5 250Q512.5 218.3 544 218.3H565V238.7H561Q549 238.7 549 251V312Q549 324.3 561 324.3H565V344.5H544Q512.5 344.5 512.5 313Z"/>

</g>
</svg>
</body>
</html>
